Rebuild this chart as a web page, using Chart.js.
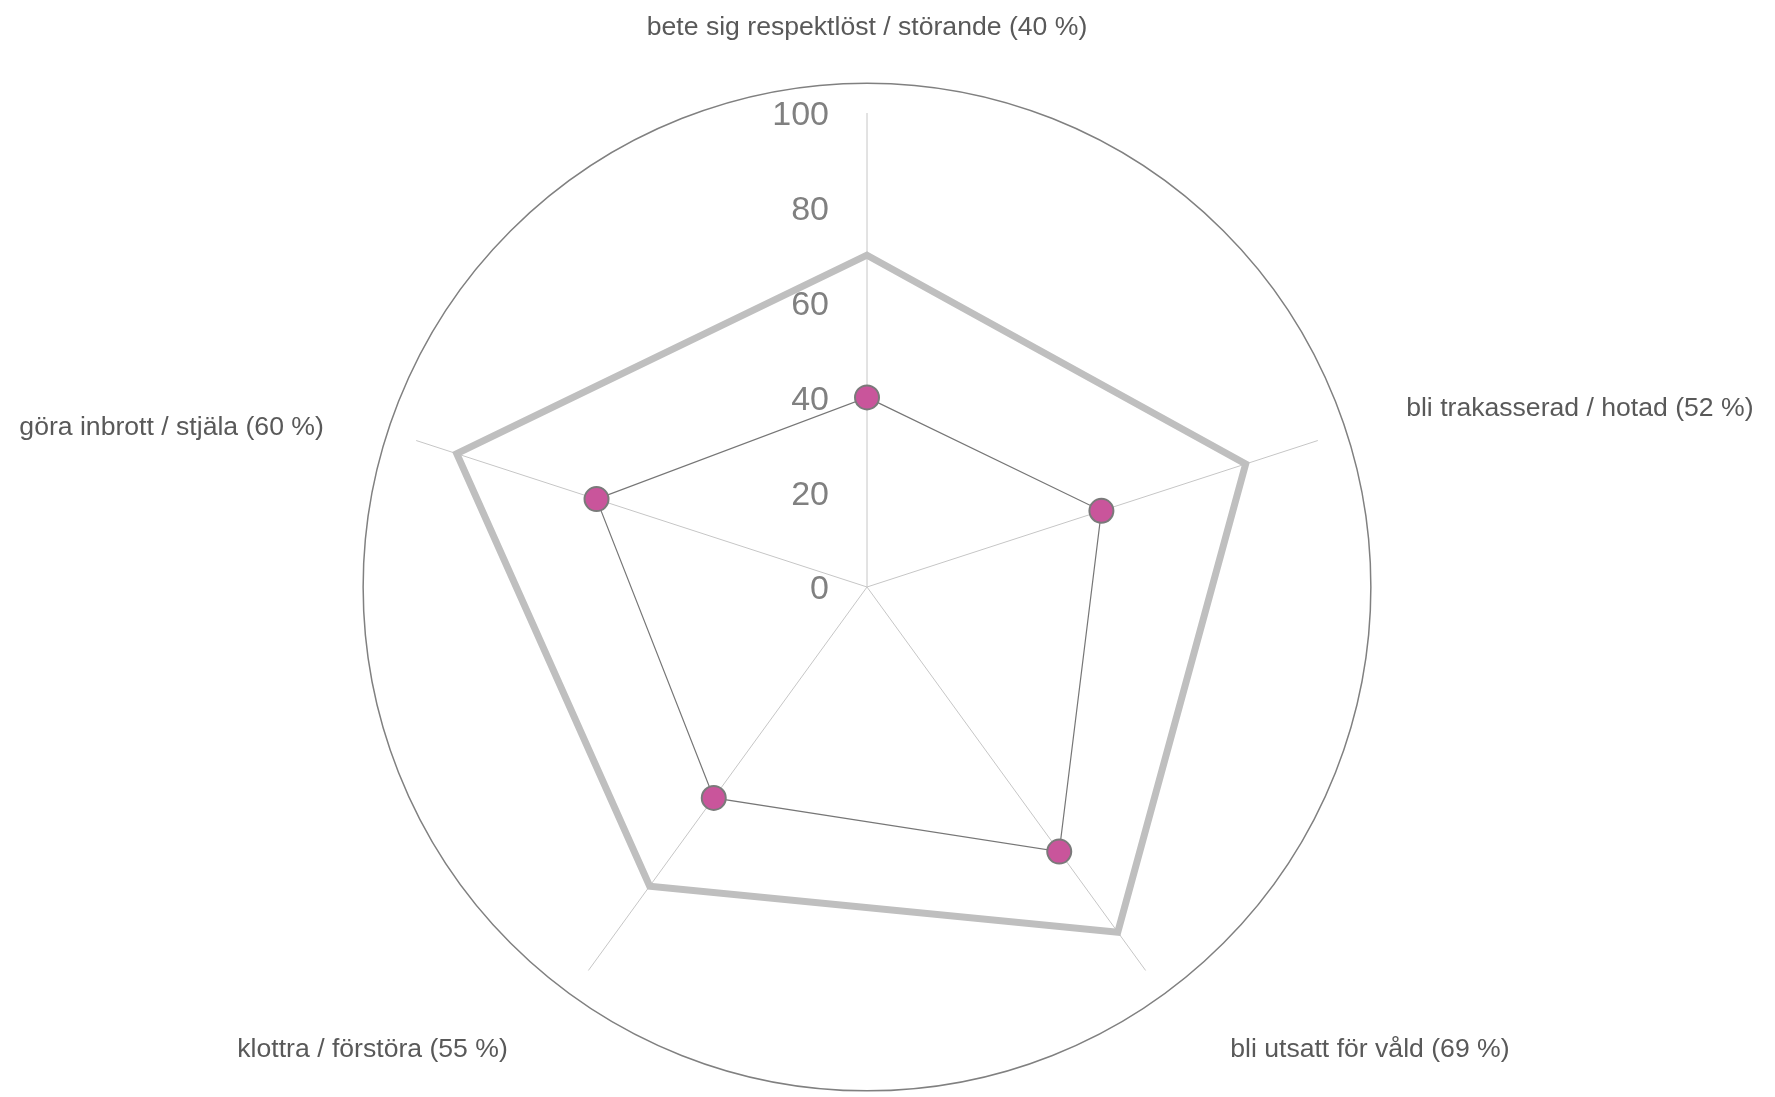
<!DOCTYPE html>
<html><head><meta charset="utf-8">
<script src="https://cdn.jsdelivr.net/npm/chart.js@4.4.1/dist/chart.umd.min.js"></script>
<style>html,body{margin:0;padding:0;background:#fff}#wrap{width:1775px;height:1097px;position:relative}</style>
</head><body><div id="wrap"><canvas id="c"></canvas></div>
<script>
const categories = [
  "bete sig respektlöst / störande (40 %)",
  "bli trakasserad / hotad (52 %)",
  "bli utsatt för våld (69 %)",
  "klottra / förstöra (55 %)",
  "göra inbrott / stjäla (60 %)"
];
const pinkSeries = [40, 52, 69, 55, 60];
const graySeries = [70, 84, 90, 78, 91];
const tickValues = [0, 20, 40, 60, 80, 100];

// styling / layout helpers (not data)
const OUTER_RING_VALUE = 106.3;
const LABEL_RADIUS_VALUE = 119.6;
const labelNudge = [[0, 8], [0, -3], [30, 4], [-26, 4], [-4, 16]];
const FONT = '"Liberation Sans", Arial, sans-serif';

const decor = {
  id: 'decor',
  beforeDatasetsDraw(chart) {
    const s = chart.scales.r, ctx = chart.ctx;
    ctx.save();
    ctx.beginPath();
    ctx.arc(s.xCenter, s.yCenter, s.getDistanceFromCenterForValue(OUTER_RING_VALUE), 0, Math.PI * 2);
    ctx.strokeStyle = '#808080';
    ctx.lineWidth = 1.5;
    ctx.stroke();
    // category labels
    ctx.font = '26.6px ' + FONT;
    ctx.fillStyle = '#595959';
    ctx.textBaseline = 'middle';
    const dist = s.getDistanceFromCenterForValue(LABEL_RADIUS_VALUE);
    categories.forEach((lab, i) => {
      const p = s.getPointPosition(i, dist);
      const deg = Math.round(i * 360 / categories.length) % 360;
      ctx.textAlign = (deg === 0 || deg === 180) ? 'center' : (deg < 180 ? 'left' : 'right');
      ctx.fillText(lab, p.x + labelNudge[i][0], p.y + labelNudge[i][1]);
    });
    ctx.restore();
  },
  afterDatasetsDraw(chart) {
    const s = chart.scales.r, ctx = chart.ctx;
    ctx.save();
    ctx.font = '34px ' + FONT;
    ctx.fillStyle = '#808080';
    ctx.textAlign = 'right';
    ctx.textBaseline = 'middle';
    tickValues.forEach(v => {
      const d = s.getDistanceFromCenterForValue(v);
      ctx.fillText(String(v), s.xCenter - 38, s.yCenter - d + 3);
    });
    ctx.restore();
  }
};

new Chart(document.getElementById('c'), {
  type: 'radar',
  data: {
    labels: categories,
    datasets: [
      {
        data: pinkSeries,
        borderColor: '#767676',
        borderWidth: 1.2,
        fill: false,
        pointRadius: 12,
        pointHoverRadius: 12,
        pointBorderWidth: 2,
        pointBorderColor: '#7a7a7a',
        pointBackgroundColor: '#C9559B'
      },
      {
        data: graySeries,
        borderColor: '#BFBFBF',
        borderWidth: 7,
        borderJoinStyle: 'miter',
        fill: false,
        pointRadius: 0,
        pointHoverRadius: 0
      }
    ]
  },
  options: {
    responsive: true,
    maintainAspectRatio: false,
    animation: false,
    layout: { padding: { top: 113, bottom: 36, left: 393, right: 434 } },
    plugins: { legend: { display: false }, tooltip: { enabled: false } },
    scales: {
      r: {
        min: 0, max: 100,
        ticks: { display: false, stepSize: 20 },
        grid: { display: false },
        angleLines: { display: true, color: '#c6c6c6', lineWidth: 1 },
        pointLabels: { display: false }
      }
    }
  },
  plugins: [decor]
});
</script>
</body></html>
